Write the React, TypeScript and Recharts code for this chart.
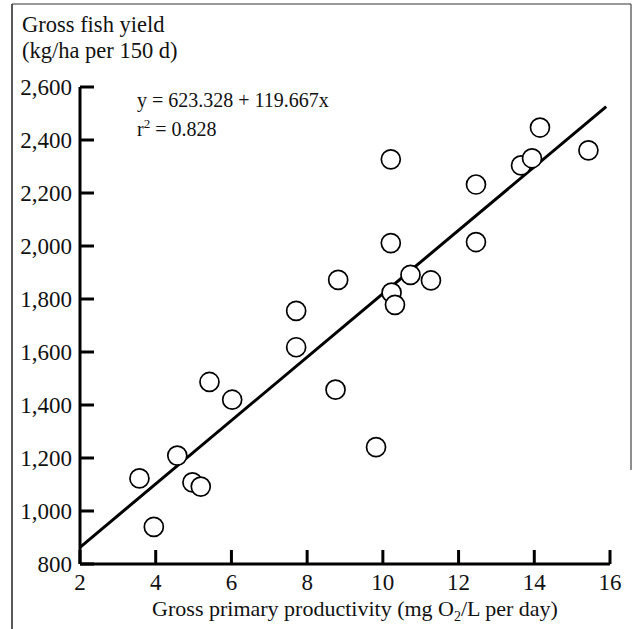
import { ScatterChart, Scatter, XAxis, YAxis } from 'recharts'

const xTicks = [2, 4, 6, 8, 10, 12, 14, 16]
const yTicks = [800, 1000, 1200, 1400, 1600, 1800, 2000, 2200, 2400, 2600]

// gross primary productivity (mg O2/L per day)
const gpp = [
  3.57, 3.95, 4.57, 4.97, 5.19, 5.42, 6.02, 7.71, 7.71, 8.82, 8.75, 9.82,
  10.23, 10.32, 10.21, 10.21, 10.73, 11.27, 12.46, 12.46, 13.65, 13.94, 14.15, 15.43,
]
// gross fish yield (kg/ha per 150 d)
const fishYield = [
  1123, 940, 1209, 1108, 1092, 1487, 1420, 1755, 1618, 1872, 1458, 1241,
  1824, 1778, 2327, 2011, 1891, 1870, 2232, 2015, 2304, 2331, 2447, 2361,
]

// fitted line ends
const fitX = [2, 15.9]
const fitY = [863, 2526]

const points = gpp.map((x, i) => ({ x, y: fishYield[i] }))
const fit = fitX.map((x, i) => ({ x, y: fitY[i] }))

const FONT = '"Liberation Serif", "DejaVu Serif", serif'

const fmt = (v: number) => v.toLocaleString('en-US')

function YTick(props: any) {
  const { x, y, payload } = props
  return (
    <g>
      <line x1={x + 8} x2={x + 22} y1={y} y2={y} stroke="#000" strokeWidth={3} />
      <text x={x} y={y + 8} textAnchor="end" fontSize={23} fontFamily={FONT} fill="#111">
        {fmt(payload.value)}
      </text>
    </g>
  )
}

function XTick(props: any) {
  const { x, y, payload } = props
  return (
    <g>
      <line x1={x} x2={x} y1={y - 14} y2={y} stroke="#000" strokeWidth={3} />
      <text x={x} y={y + 26} textAnchor="middle" fontSize={23} fontFamily={FONT} fill="#111">
        {payload.value}
      </text>
    </g>
  )
}

const Ring = (props: any) => (
  <circle cx={props.cx} cy={props.cy} r={9.5} fill="#fff" stroke="#000" strokeWidth={1.7} />
)

export default function App() {
  return (
    <div style={{ position: 'absolute', left: 0, top: 0, width: 633, height: 629, background: '#fff' }}>
      <ScatterChart width={633} height={629} margin={{ top: 87, right: 23, bottom: 0, left: 0 }}>
        <XAxis
          type="number"
          dataKey="x"
          domain={[2, 16]}
          ticks={xTicks}
          height={65}
          tickSize={0}
          tickMargin={0}
          tickLine={false}
          axisLine={{ stroke: '#000', strokeWidth: 3 }}
          tick={<XTick />}
          interval={0}
        />
        <YAxis
          type="number"
          dataKey="y"
          domain={[800, 2600]}
          ticks={yTicks}
          width={80}
          tickSize={0}
          tickMargin={8}
          tickLine={false}
          axisLine={{ stroke: '#000', strokeWidth: 3 }}
          tick={<YTick />}
          interval={0}
        />
        <Scatter
          data={fit}
          line={{ stroke: '#000', strokeWidth: 3 }}
          shape={() => null}
          isAnimationActive={false}
        />
        <Scatter data={points} shape={Ring} isAnimationActive={false} />
      </ScatterChart>
      <svg
        width={633}
        height={629}
        style={{ position: 'absolute', left: 0, top: 0, pointerEvents: 'none' }}
        fontFamily={FONT}
        fill="#111"
      >
        <line x1={12} x2={12} y1={4} y2={629} stroke="#222" strokeWidth={1.5} />
        <line x1={12} x2={631} y1={4} y2={4} stroke="#333" strokeWidth={1.2} />
        <line x1={631} x2={631} y1={4} y2={470} stroke="#444" strokeWidth={1.2} />
        <text x={22} y={32} fontSize={22.5}>Gross fish yield</text>
        <text x={22} y={58} fontSize={22.5}>(kg/ha per 150 d)</text>
        <text x={137} y={107} fontSize={20}>y = 623.328 + 119.667x</text>
        <text x={137} y={136} fontSize={20}>
          r<tspan dy={-8} fontSize={13}>2</tspan>
          <tspan dy={8}> = 0.828</tspan>
        </text>
        <text x={355} y={616} fontSize={22} textAnchor="middle">
          Gross primary productivity (mg O<tspan dy={5} fontSize={14}>2</tspan>
          <tspan dy={-5}>/L per day)</tspan>
        </text>
      </svg>
    </div>
  )
}
